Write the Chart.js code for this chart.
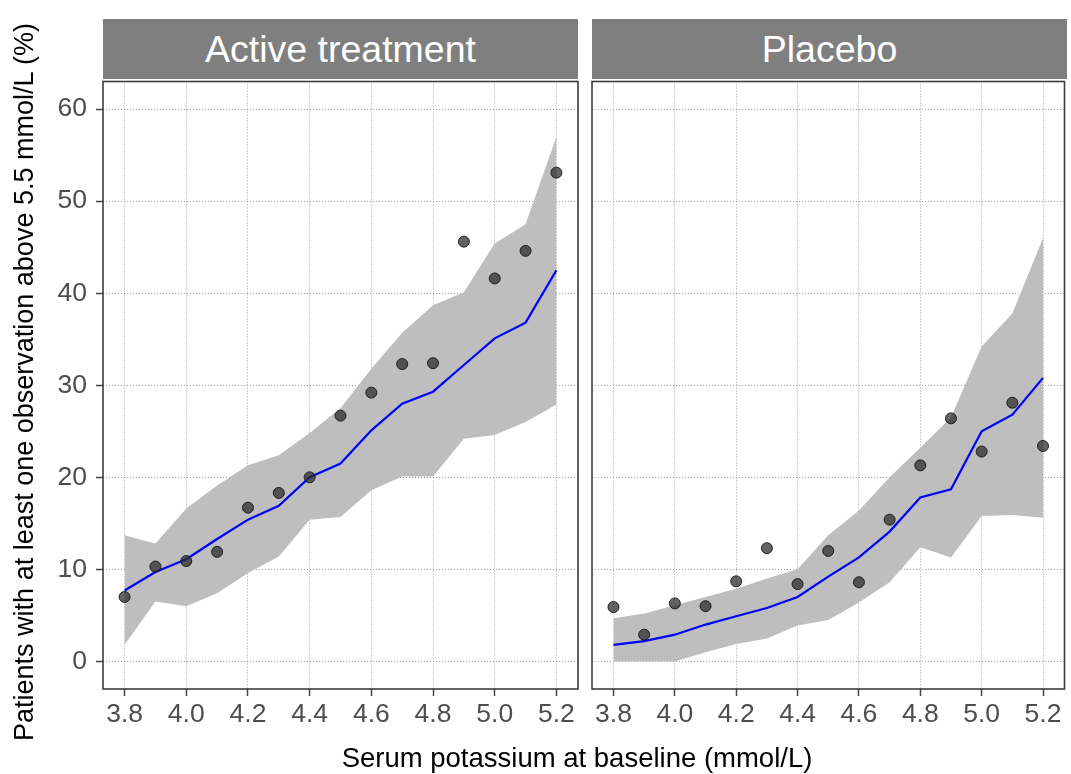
<!DOCTYPE html>
<html>
<head>
<meta charset="utf-8">
<script src="https://cdn.jsdelivr.net/npm/chart.js@4"></script>
<style>
  body { margin: 0; background: #fff; font-family: "Liberation Sans", Arial, sans-serif; }
  #wrap { position: relative; width: 1071px; height: 774px; overflow: hidden; }
  canvas { position: absolute; }
  .strip { position: absolute; top: 19px; height: 60px; line-height: 60px; background: #7f7f7f;
           color: #fff; font-size: 37.5px; text-align: center; z-index: 2; }
  #xtitle { position: absolute; left: 277px; width: 600px; top: 742px; line-height: 32px;
            font-size: 27.5px; text-align: center; color: #000; }
  #ytitle { position: absolute; left: -376px; top: 366px; width: 800px; height: 32px; line-height: 32px;
            font-size: 27px; text-align: center; color: #000; transform: rotate(-90deg); }
</style>
</head>
<body>
<div id="wrap">
  <canvas id="activeChart" width="585" height="699" style="left:0;top:75px"></canvas>
  <canvas id="placeboChart" width="486" height="699" style="left:585px;top:75px"></canvas>
  <div class="strip" id="strip1" style="left:103px;width:475px"></div>
  <div class="strip" id="strip2" style="left:592px;width:475px"></div>
  <div id="xtitle"></div>
  <div id="ytitle"></div>
</div>
<script>
/* Data section */
var panelTitles = ["Active treatment", "Placebo"];
var xAxisTitle = "Serum potassium at baseline (mmol/L)";
var yAxisTitle = "Patients with at least one observation above 5.5 mmol/L (%)";

var potassium = [3.8, 3.9, 4.0, 4.1, 4.2, 4.3, 4.4, 4.5, 4.6, 4.7, 4.8, 4.9, 5.0, 5.1, 5.2];

var activeObserved = [7.0, 10.3, 10.9, 11.9, 16.7, 18.3, 20.0, 26.7, 29.2, 32.3, 32.4, 45.6, 41.6, 44.6, 53.1];
var activeFit      = [7.7, 9.7, 11.1, 13.3, 15.4, 16.9, 20.0, 21.5, 25.1, 28.0, 29.3, 32.2, 35.1, 36.8, 42.5];
var activeLower    = [1.8, 6.5, 6.0, 7.4, 9.6, 11.4, 15.4, 15.7, 18.6, 20.1, 20.1, 24.2, 24.6, 26.0, 27.9];
var activeUpper    = [13.7, 12.8, 16.6, 19.1, 21.3, 22.4, 24.8, 27.5, 31.8, 35.7, 38.7, 40.1, 45.4, 47.5, 57.0];

var placeboObserved = [5.9, 2.9, 6.3, 6.0, 8.7, 12.3, 8.4, 12.0, 8.6, 15.4, 21.3, 26.4, 22.8, 28.1, 23.4];
var placeboFit      = [1.8, 2.2, 2.9, 4.0, 4.9, 5.8, 7.0, 9.2, 11.3, 14.1, 17.8, 18.7, 25.0, 26.8, 30.8];
var placeboLower    = [0.0, 0.0, 0.0, 1.0, 1.9, 2.5, 3.9, 4.5, 6.4, 8.6, 12.4, 11.3, 15.8, 15.9, 15.6];
var placeboUpper    = [4.7, 5.2, 6.1, 7.0, 7.9, 9.0, 10.0, 13.7, 16.4, 20.0, 23.2, 26.5, 34.2, 37.8, 46.0];

var xTicks = [3.8, 4.0, 4.2, 4.4, 4.6, 4.8, 5.0, 5.2];
var yTicks = [0, 10, 20, 30, 40, 50, 60];

/* Text section */
document.getElementById('strip1').textContent = panelTitles[0];
document.getElementById('strip2').textContent = panelTitles[1];
document.getElementById('xtitle').textContent = xAxisTitle;
document.getElementById('ytitle').textContent = yAxisTitle;

/* Chart section */
var font = '"Liberation Sans", Arial, sans-serif';

function pairs(values) {
    return potassium.map(function (x, i) { return { x: x, y: values[i] }; });
}

// draws the ggplot style frame round the panel
var panelBorder = {
    id: 'panelBorder',
    afterDatasetsDraw: function (chart) {
        var a = chart.chartArea, ctx = chart.ctx;
        ctx.save();
        ctx.strokeStyle = '#3d3d3d';
        ctx.lineWidth = 1.6;
        ctx.strokeRect(a.left, a.top, a.right - a.left, a.bottom - a.top);
        ctx.restore();
    }
};

// no extra room for overhanging tick labels, the panel size is fixed
function noOverhang(scale) {
    scale.paddingTop = 0;
    scale.paddingBottom = 0;
    scale.paddingLeft = 0;
    scale.paddingRight = 0;
}

function makePanel(id, observed, fit, lower, upper, showY) {
    var ctx = document.getElementById(id).getContext('2d');
    return new Chart(ctx, {
        type: 'line',
        data: {
            datasets: [{
                data: pairs(observed),
                showLine: false,
                pointRadius: 5.5,
                pointBackgroundColor: 'rgba(45,45,45,0.74)',
                pointBorderColor: 'rgba(20,20,20,0.9)',
                pointBorderWidth: 1,
                order: 0
            }, {
                data: pairs(fit),
                borderColor: '#0000ff',
                borderWidth: 2.2,
                pointRadius: 0,
                fill: false,
                order: 1
            }, {
                data: pairs(lower),
                borderWidth: 0,
                borderColor: 'rgba(0,0,0,0)',
                pointRadius: 0,
                fill: false,
                order: 3
            }, {
                data: pairs(upper),
                borderWidth: 0,
                borderColor: 'rgba(0,0,0,0)',
                backgroundColor: 'rgb(190,190,190)',
                pointRadius: 0,
                fill: '-1',
                order: 2
            }]
        },
        options: {
            responsive: false,
            animation: false,
            devicePixelRatio: 1,
            layout: { padding: showY ? { top: 4, right: 7, left: 0, bottom: 0 } : { top: 4, right: 2, left: 7, bottom: 0 } },
            plugins: { legend: { display: false }, tooltip: { enabled: false } },
            scales: {
                x: {
                    type: 'linear',
                    min: 3.73,
                    max: 5.27,
                    afterBuildTicks: function (scale) {
                        scale.ticks = xTicks.map(function (v) { return { value: v }; });
                    },
                    afterFit: function (scale) { scale.height = 85; noOverhang(scale); },
                    ticks: {
                        autoSkip: false,
                        maxRotation: 0,
                        padding: 3,
                        color: '#4d4d4d',
                        font: { family: font, size: 26.5 },
                        callback: function (v) { return Number(v).toFixed(1); }
                    },
                    grid: { color: '#a0a0a0', lineWidth: 1, tickLength: 7, tickColor: '#444', tickWidth: 1.5 },
                    border: { display: false, dash: [1, 2] }
                },
                y: {
                    min: -3,
                    max: 63,
                    afterBuildTicks: function (scale) {
                        scale.ticks = yTicks.map(function (v) { return { value: v }; });
                    },
                    afterFit: function (scale) { scale.width = showY ? 103 : 0; noOverhang(scale); },
                    ticks: {
                        display: showY,
                        padding: 9,
                        color: '#4d4d4d',
                        font: { family: font, size: 26.5 },
                        callback: function (v) { return v; }
                    },
                    grid: { color: '#a0a0a0', lineWidth: 1, drawTicks: showY, tickLength: 7, tickColor: '#444', tickWidth: 1.5 },
                    border: { display: false, dash: [1, 2] }
                }
            }
        },
        plugins: [panelBorder]
    });
}

var activeChart = makePanel('activeChart', activeObserved, activeFit, activeLower, activeUpper, true);
var placeboChart = makePanel('placeboChart', placeboObserved, placeboFit, placeboLower, placeboUpper, false);
</script>
</body>
</html>
